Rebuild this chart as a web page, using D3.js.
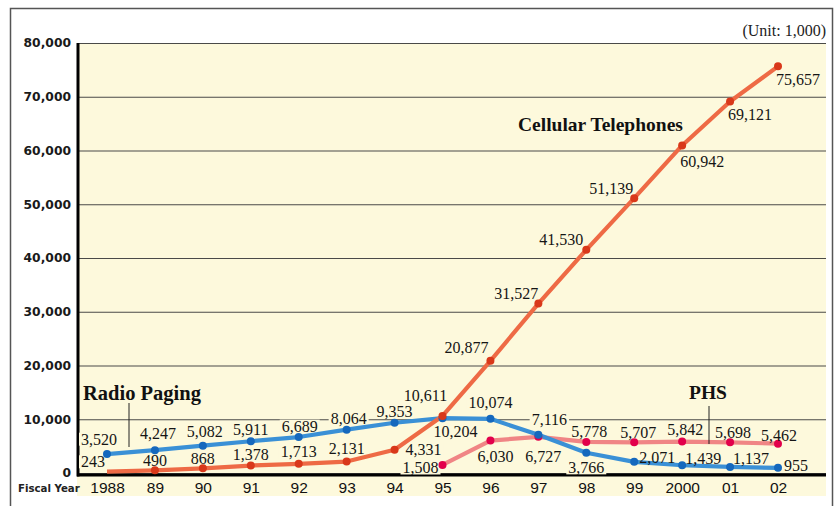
<!DOCTYPE html>
<html>
<head>
<meta charset="utf-8">
<script src="https://cdn.jsdelivr.net/npm/d3@7"></script>
<style>
  body { margin: 0; background: #fff; }
</style>
</head>
<body>
<svg id="chart" width="838" height="506"></svg>
<script>
// fiscal years on the x axis
const years = ["1988", "89", "90", "91", "92", "93", "94", "95", "96", "97", "98", "99", "2000", "01", "02"];

// subscribers, unit 1,000
const cellular = [243, 490, 868, 1378, 1713, 2131, 4331, 10611, 20877, 31527, 41530, 51139, 60942, 69121, 75657];
const paging = [3520, 4247, 5082, 5911, 6689, 8064, 9353, 10204, 10074, 7116, 3766, 2071, 1439, 1137, 955];
const phs = [null, null, null, null, null, null, null, 1508, 6030, 6727, 5778, 5707, 5842, 5698, 5462];

const yTicks = [0, 10000, 20000, 30000, 40000, 50000, 60000, 70000, 80000];

// where each value label sits relative to its point [dx, dy]
const cellLabelPos = [[-14, -10], [0, -10], [0, -10], [0, -11], [0, -12], [0, -13], [29, 0], [-17, -21],
  [-24, -13], [-22, -10], [-25, -10], [-23, -10], [20, 16], [20, 13], [20, 13]];
const pagingLabelPos = [[-8, -15], [3, -17], [2, -14], [0, -12], [1, -11], [2, -11], [0, -11], [13, 13],
  [0, -16], [11, -15], [0, 15], [23, -4], [21, -7], [21, -8], [18, -2]];
const phsLabelPos = [null, null, null, null, null, null, null, [-22, 3], [5, 16], [5, 20], [3, -11],
  [4, -10], [3, -12], [3, -10], [1, -8]];

const plot = { left: 77, right: 826, top: 43, bottom: 473 };
const cream = "#fdf9dc";

const svg = d3.select("#chart");

// outer frame + cream panel
svg.append("rect")
  .attr("x", 10.5).attr("y", 8.5)
  .attr("width", 822).attr("height", 520)
  .attr("fill", "#fff")
  .attr("stroke", "#555").attr("stroke-width", 1.5);

svg.append("rect")
  .attr("x", plot.left).attr("y", plot.top)
  .attr("width", plot.right - plot.left).attr("height", 496 - plot.top)
  .attr("fill", cream);

const x = d3.scalePoint()
  .domain(years)
  .range([107, 778]);

const y = d3.scaleLinear()
  .domain([0, 80000])
  .range([plot.bottom, plot.top]);

// y axis with gridlines
const yAxis = svg.append("g")
  .attr("transform", `translate(${plot.left},0)`)
  .call(d3.axisLeft(y).tickValues(yTicks).tickFormat(d3.format(",")).tickSize(-(plot.right - plot.left)).tickPadding(6));
yAxis.select(".domain").remove();
yAxis.selectAll(".tick line")
  .attr("stroke", "#4a4a48").attr("stroke-width", 1.2);
yAxis.selectAll(".tick text")
  .attr("font-family", "'DejaVu Sans', Verdana, sans-serif")
  .attr("font-weight", "bold")
  .attr("font-size", 12.3)
  .attr("fill", "#1a1a1a");

// x axis labels
const xAxis = svg.append("g")
  .attr("transform", `translate(0,${plot.bottom})`)
  .call(d3.axisBottom(x).tickSize(0).tickPadding(9));
xAxis.select(".domain").remove();
xAxis.selectAll(".tick text")
  .attr("font-family", "'Liberation Sans', Arial, sans-serif")
  .attr("font-size", 15.5)
  .attr("fill", "#111");

svg.append("text")
  .attr("x", 18).attr("y", 492)
  .attr("font-family", "'DejaVu Sans', Verdana, sans-serif")
  .attr("font-weight", "bold")
  .attr("font-size", 10.2)
  .attr("fill", "#222")
  .text("Fiscal Year");

// thick axis lines
svg.append("line")
  .attr("x1", plot.left + 1).attr("x2", plot.left + 1)
  .attr("y1", plot.top).attr("y2", plot.bottom + 3.5)
  .attr("stroke", "#000").attr("stroke-width", 3);
svg.append("line")
  .attr("x1", plot.left).attr("x2", plot.right)
  .attr("y1", plot.bottom + 2).attr("y2", plot.bottom + 2)
  .attr("stroke", "#000").attr("stroke-width", 3);

svg.append("text")
  .attr("x", plot.right).attr("y", 36)
  .attr("text-anchor", "end")
  .attr("font-family", "'Liberation Serif', 'Times New Roman', serif")
  .attr("font-size", 16)
  .attr("fill", "#222")
  .text("(Unit: 1,000)");

const series = [
  { key: "phs", values: phs, line: "#f08585", dot: "#e2004b", pos: phsLabelPos },
  { key: "paging", values: paging, line: "#3a90d6", dot: "#1568bd", pos: pagingLabelPos },
  { key: "cell", values: cellular, line: "#ee6a45", dot: "#d9381a", pos: cellLabelPos }
];

const bgLayer = svg.append("g");
const lineLayer = svg.append("g");
const dotLayer = svg.append("g");
const labelLayer = svg.append("g");

const line = d3.line()
  .defined(d => d != null)
  .x((d, i) => x(years[i]))
  .y(d => y(d));

series.forEach(s => {
  lineLayer.append("path")
    .datum(s.values)
    .attr("d", line)
    .attr("fill", "none")
    .attr("stroke", s.line)
    .attr("stroke-width", 4.2)
    .attr("stroke-linejoin", "round");

  const pts = s.values.map((v, i) => ({ v, i })).filter(d => d.v != null);

  dotLayer.selectAll(null)
    .data(pts.filter(d => !(s.key === "cell" && d.i === 0)))
    .enter().append("circle")
    .attr("cx", d => x(years[d.i]))
    .attr("cy", d => y(d.v))
    .attr("r", 4)
    .attr("fill", s.dot);

  labelLayer.selectAll(null)
    .data(pts)
    .enter().append("text")
    .attr("x", d => x(years[d.i]) + s.pos[d.i][0])
    .attr("y", d => y(d.v) + s.pos[d.i][1])
    .attr("dy", "0.35em")
    .attr("text-anchor", "middle")
    .attr("font-family", "'Liberation Serif', 'Times New Roman', serif")
    .attr("font-size", 16)
    .attr("fill", "#151515")
    .text(d => d3.format(",")(d.v));
});

// knock out gridlines behind value labels
labelLayer.selectAll("text").each(function () {
  const b = this.getBBox();
  bgLayer.append("rect")
    .attr("x", b.x - 2).attr("y", b.y + 2)
    .attr("width", b.width + 4).attr("height", b.height - 4)
    .attr("fill", cream);
});

// series names + leader lines
const nameFont = "'Liberation Serif', 'Times New Roman', serif";
svg.append("text")
  .attr("x", 518).attr("y", 131)
  .attr("font-family", nameFont).attr("font-weight", "bold").attr("font-size", 19.5)
  .attr("fill", "#111")
  .text("Cellular Telephones");

svg.append("text")
  .attr("x", 83).attr("y", 400)
  .attr("font-family", nameFont).attr("font-weight", "bold").attr("font-size", 20.5)
  .attr("fill", "#111")
  .text("Radio Paging");
lineLayer.append("line")
  .attr("x1", 129).attr("x2", 129).attr("y1", 403).attr("y2", 447)
  .attr("stroke", "#222").attr("stroke-width", 1);

svg.append("text")
  .attr("x", 689).attr("y", 399)
  .attr("font-family", nameFont).attr("font-weight", "bold").attr("font-size", 19.5)
  .attr("fill", "#111")
  .text("PHS");
lineLayer.append("line")
  .attr("x1", 709).attr("x2", 709).attr("y1", 406).attr("y2", 444)
  .attr("stroke", "#222").attr("stroke-width", 1);
</script>
</body>
</html>
